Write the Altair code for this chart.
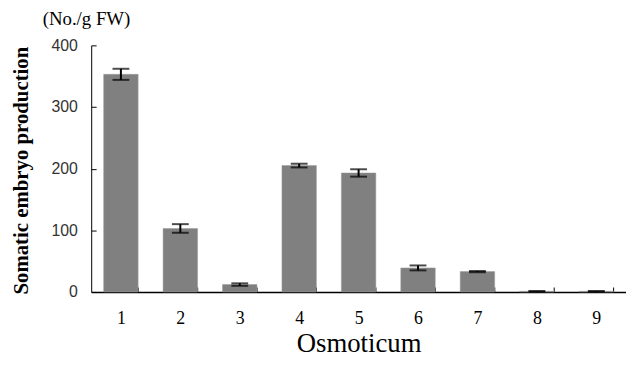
import altair as alt
import pandas as pd

categories = ["1", "2", "3", "4", "5", "6", "7", "8", "9"]
means = [353, 103, 12, 205, 193, 39, 33, 1, 1]
errors = [9, 7, 2, 3, 6, 4, 1, 0.5, 0.5]
y_ticks = [0, 100, 200, 300, 400]

df = pd.DataFrame({"cat": categories, "mean": means, "err": errors})
df["lo"] = df["mean"] - df["err"]
df["hi"] = df["mean"] + df["err"]

serif = "Liberation Serif"
sans = "Liberation Sans"

xscale = alt.Scale(domain=categories, paddingInner=0.42, paddingOuter=0.21)
yscale = alt.Scale(domain=[0, 400], nice=False)

x_axis = alt.Axis(
    title="Osmoticum", titleFont=serif, titleFontSize=27, titleFontWeight="normal",
    titleColor="#000", titlePadding=3,
    labelFont=serif, labelFontSize=18, labelColor="#000", labelAngle=0, labelPadding=23,
    tickBand="extent", tickSize={"expr": "-5"}, tickColor="#000", tickWidth=1,
    domainColor="#000", domainWidth=1.5,
)
y_axis = alt.Axis(
    title="Somatic embryo production", titleFont=serif, titleFontSize=21,
    titleFontWeight="bold", titleColor="#000",
    titleX=-70, titleY=126, titleAlign="center", titleBaseline="middle", titleAngle=270,
    values=y_ticks, grid=False,
    labelFont=sans, labelFontSize=16, labelColor="#333", labelPadding=19,
    tickSize={"expr": "-5"}, tickColor="#000", tickWidth=1,
    domainColor="#000", domainWidth=1,
)

base = alt.Chart(df)
bars = base.mark_bar(color="#808080", stroke="#9a9a9a", strokeWidth=0.5).encode(
    x=alt.X("cat:N", scale=xscale, axis=x_axis, sort=categories),
    y=alt.Y("mean:Q", scale=yscale, axis=y_axis),
)
rules = base.mark_rule(color="#000", strokeWidth=2).encode(
    x=alt.X("cat:N", sort=categories), y="lo:Q", y2="hi:Q"
)
caps_hi = base.mark_tick(color="#000", thickness=2, size=17).encode(
    x=alt.X("cat:N", sort=categories), y="hi:Q"
)
caps_lo = base.mark_tick(color="#000", thickness=2, size=17).encode(
    x=alt.X("cat:N", sort=categories), y="lo:Q"
)

chart = alt.layer(bars, rules, caps_hi, caps_lo).properties(
    width=540, height=249,
    title=alt.TitleParams("(No./g FW)", anchor="start", frame="group", font=serif,
                          fontSize=19, fontWeight="normal", color="#000",
                          dx=-49, offset=9),
    autosize=alt.AutoSizeParams(type="none"),
    padding={"left": 84, "top": 36, "right": 0, "bottom": 68},
).configure_view(stroke=None)

chart.save("out.html", embed_options={"renderer": "svg", "actions": False})
